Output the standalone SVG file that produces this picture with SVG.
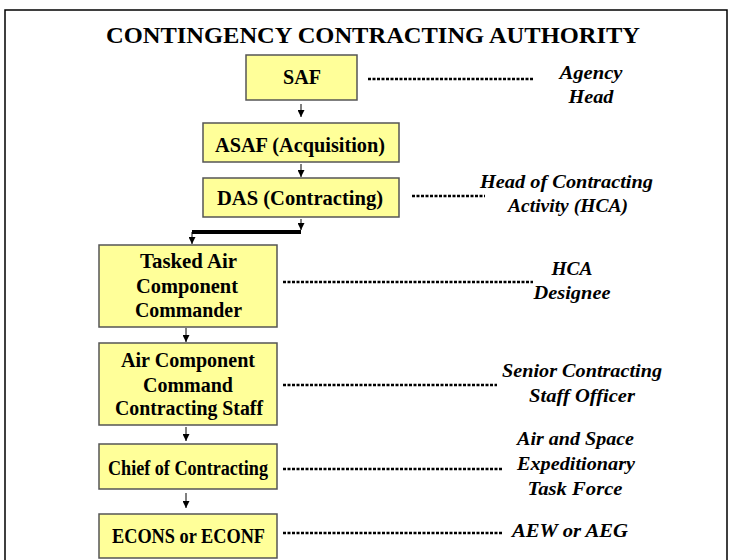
<svg xmlns="http://www.w3.org/2000/svg" width="731" height="560" viewBox="0 0 731 560">
<style>
.box{fill:#FFFF99;stroke:#555;stroke-width:1.5}
.bt{font-family:"Liberation Serif",serif;font-weight:bold;font-size:20px;text-anchor:middle;fill:#000}
.lt{font-family:"Liberation Serif",serif;font-weight:bold;font-style:italic;font-size:19.5px;text-anchor:middle;fill:#000}
.dot{stroke:#000;stroke-width:2.5;stroke-dasharray:3 1.5;fill:none}
.ar{stroke:#000;stroke-width:1;fill:none}
</style>
<defs>
<marker id="a" markerWidth="7" markerHeight="7" refX="7" refY="3.5" orient="auto" markerUnits="userSpaceOnUse">
<path d="M0,0 L7,3.5 L0,7 Z" fill="#000"/>
</marker>
</defs>
<rect width="731" height="560" fill="#fff"/>
<path d="M5,565 V10 H727 V565" fill="none" stroke="#000" stroke-width="1.5"/>
<text x="373" y="43" font-family="Liberation Serif,serif" font-weight="bold" font-size="22.5" text-anchor="middle" textLength="534" lengthAdjust="spacingAndGlyphs">CONTINGENCY CONTRACTING AUTHORITY</text>

<g id="connectors">
<line class="ar" x1="301" y1="104" x2="301" y2="117" marker-end="url(#a)"/>
<line class="ar" x1="301" y1="164" x2="301" y2="177" marker-end="url(#a)"/>
<line class="ar" x1="301" y1="219" x2="301" y2="230" marker-end="url(#a)"/>
<path d="M301,232 H192" stroke="#000" stroke-width="4" fill="none"/>
<line class="ar" x1="192" y1="232" x2="192" y2="244" marker-end="url(#a)"/>
<line class="ar" x1="186" y1="328" x2="186" y2="342" marker-end="url(#a)"/>
<line class="ar" x1="186" y1="427" x2="186" y2="441" marker-end="url(#a)"/>
<line class="ar" x1="186" y1="493" x2="186" y2="508" marker-end="url(#a)"/>
<line class="dot" x1="368" y1="79" x2="533" y2="79"/>
<line class="dot" x1="412" y1="196" x2="485" y2="196"/>
<line class="dot" x1="283" y1="282" x2="533" y2="282"/>
<line class="dot" x1="283" y1="385" x2="497" y2="385"/>
<line class="dot" x1="283" y1="469" x2="502" y2="469"/>
<line class="dot" x1="283" y1="533" x2="502" y2="533"/>
</g>

<g id="saf"><rect class="box" x="246" y="55" width="111" height="45"/><text class="bt" x="302" y="84" textLength="38" lengthAdjust="spacingAndGlyphs">SAF</text></g>
<g id="asaf"><rect class="box" x="203" y="123" width="196" height="39"/><text class="bt" x="300" y="152" textLength="170" lengthAdjust="spacingAndGlyphs">ASAF (Acquisition)</text></g>
<g id="das"><rect class="box" x="203" y="178" width="196" height="39"/><text class="bt" x="300" y="205" textLength="166" lengthAdjust="spacingAndGlyphs">DAS (Contracting)</text></g>
<g id="tacc"><rect class="box" x="99" y="245" width="178" height="82"/><text class="bt" x="188.5" y="268" textLength="97" lengthAdjust="spacingAndGlyphs">Tasked Air</text><text class="bt" x="187" y="293" textLength="102" lengthAdjust="spacingAndGlyphs">Component</text><text class="bt" x="188.5" y="317" textLength="107" lengthAdjust="spacingAndGlyphs">Commander</text></g>
<g id="accs"><rect class="box" x="99" y="343" width="178" height="82"/><text class="bt" x="188" y="367" textLength="134" lengthAdjust="spacingAndGlyphs">Air Component</text><text class="bt" x="188" y="392" textLength="90" lengthAdjust="spacingAndGlyphs">Command</text><text class="bt" x="189" y="415" textLength="148" lengthAdjust="spacingAndGlyphs">Contracting Staff</text></g>
<g id="chief"><rect class="box" x="99" y="444" width="178" height="45"/><text class="bt" x="188" y="475" textLength="160" lengthAdjust="spacingAndGlyphs">Chief of Contracting</text></g>
<g id="econs"><rect class="box" x="99" y="514" width="178" height="44"/><text class="bt" x="188.5" y="543" textLength="153" lengthAdjust="spacingAndGlyphs">ECONS or ECONF</text></g>

<g id="labels">
<text class="lt" x="591" y="79" textLength="63" lengthAdjust="spacingAndGlyphs">Agency</text><text class="lt" x="591" y="103" textLength="45" lengthAdjust="spacingAndGlyphs">Head</text>
<text class="lt" x="566.5" y="188" textLength="173" lengthAdjust="spacingAndGlyphs">Head of Contracting</text><text class="lt" x="568" y="212" textLength="120" lengthAdjust="spacingAndGlyphs">Activity (HCA)</text>
<text class="lt" x="572" y="275" textLength="41" lengthAdjust="spacingAndGlyphs">HCA</text><text class="lt" x="572" y="299" textLength="77" lengthAdjust="spacingAndGlyphs">Designee</text>
<text class="lt" x="582" y="377" textLength="160" lengthAdjust="spacingAndGlyphs">Senior Contracting</text><text class="lt" x="582" y="402" textLength="106" lengthAdjust="spacingAndGlyphs">Staff Officer</text>
<text class="lt" x="575.5" y="445" textLength="117" lengthAdjust="spacingAndGlyphs">Air and Space</text><text class="lt" x="576" y="470" textLength="118" lengthAdjust="spacingAndGlyphs">Expeditionary</text><text class="lt" x="575" y="495" textLength="95" lengthAdjust="spacingAndGlyphs">Task Force</text>
<text class="lt" x="570" y="537" textLength="116" lengthAdjust="spacingAndGlyphs">AEW or AEG</text>
</g>
</svg>
